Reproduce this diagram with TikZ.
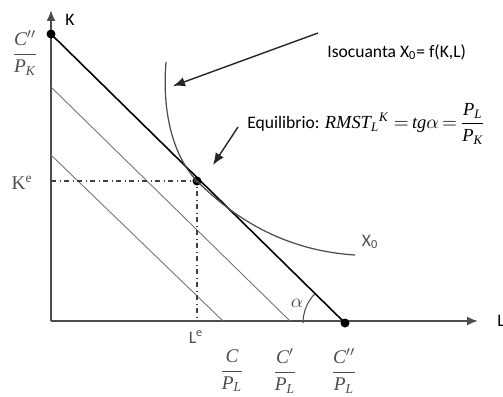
\documentclass[tikz,border=0pt]{standalone}
\usepackage{amsmath,amssymb}
\usepackage{fontspec}
\setmainfont{Carlito}
\newfontfamily\tms{Liberation Serif}
\newcommand{\ti}[1]{\text{\tms\itshape #1}}
\usetikzlibrary{arrows.meta,calc,positioning}

\begin{document}
\begin{tikzpicture}[x=0.02cm,y=0.02cm,
    font=\fontsize{10}{12}\selectfont,
    dot/.style={circle,fill=black,minimum size=1.8mm,inner sep=0pt},
    ax/.style={-{Latex[length=2.2mm,width=1.8mm]},line width=1.1pt,black!70},
    budget/.style={line width=0.5pt,black!55},
    guide/.style={dash dot,line width=0.6pt,black!75},
    lbl/.style={text=black!70},
    frac/.style={text=black!70,font=\fontsize{11}{13}\selectfont},
    e/.style={-{Latex[length=2.4mm,width=1.9mm]},line width=0.8pt,black!85}
  ]
  \useasboundingbox (0,0) rectangle (503,-396);
  % axes
  \coordinate (o) at (51,-321);
  \coordinate (ytip) at (51,-10);
  \coordinate (xtip) at (478,-321);
  \draw[ax] (o)--(ytip);
  \draw[ax] (o)--(xtip);
  \node[anchor=south west,inner sep=0pt] (K) at (65,-26) {K};
  \node[anchor=west,inner sep=0pt] (L) at (497,-321) {L};
  % budget lines
  \node[dot] (top) at (51,-34) {};
  \node[dot] (bot) at (345,-323) {};
  \node[dot] (eq) at (197,-181) {};
  \draw[line width=0.9pt] (top.center)--(bot.center);
  \coordinate (b1) at (51,-87);  \coordinate (b1x) at (290,-321);
  \coordinate (b2) at (51,-155); \coordinate (b2x) at (223,-321);
  \draw[budget] (b1)--(b1x);
  \draw[budget] (b2)--(b2x);
  % equilibrium guides
  \coordinate (ke) at (51,-181);
  \coordinate (le) at (197,-321);
  \draw[guide] (ke)--(eq.center)--(le);
  % isoquant
  \draw[line width=0.7pt,black!70] (166,-62) .. controls (162,-110) and (172,-155) .. (eq.center)
    .. controls (225,-209) and (275,-250) .. (355,-255);
  \node[lbl] (x0) at (370,-242) {X\textsubscript{0}};
  % angle
  \draw[line width=0.6pt,black!70] (bot.center) ++(180:0.84cm) arc[start angle=180,end angle=136,radius=0.84cm];
  \node[frac] (alpha) at (297,-303) {$\alpha$};
  % axis labels
  \node[frac] (cpk) at (25,-53) {$\dfrac{\ti{C}''}{\ti{P}_{\ti{K}}}$};
  \node[frac] (kel) at (22,-183) {\tms K\textsuperscript{e}};
  \node[lbl] (lel) at (196,-337) {L\textsuperscript{e}};
  \node[frac] (cpl1) at (232,-371) {$\dfrac{\ti{C}}{\ti{P}_{\ti{L}}}$};
  \node[frac] (cpl2) at (285,-371) {$\dfrac{\ti{C}'}{\ti{P}_{\ti{L}}}$};
  \node[frac] (cpl3) at (344,-371) {$\dfrac{\ti{C}''}{\ti{P}_{\ti{L}}}$};
  % notes
  \node[anchor=west,inner sep=0pt] (iso) at (327,-52) {Isocuanta X\textsubscript{0}= f(K,L)};
  \node[anchor=west,inner sep=0pt] (equ) at (247,-124)
    {Equilibrio: {\fontsize{10.5}{12}\selectfont$\ti{RMST}_{\ti{L}}{}^{\ti{K}}\;{=}\,\ti{tg}\alpha\,{=}\,\dfrac{\ti{P}_{\ti{L}}}{\ti{P}_{\ti{K}}}$}};
  \coordinate (a1) at (318,-33); \coordinate (a1e) at (173,-86);
  \coordinate (a2) at (238,-127); \coordinate (a2e) at (213,-165);
  \draw[e] (a1)--(a1e);
  \draw[e] (a2)--(a2e);
\end{tikzpicture}
\end{document}
